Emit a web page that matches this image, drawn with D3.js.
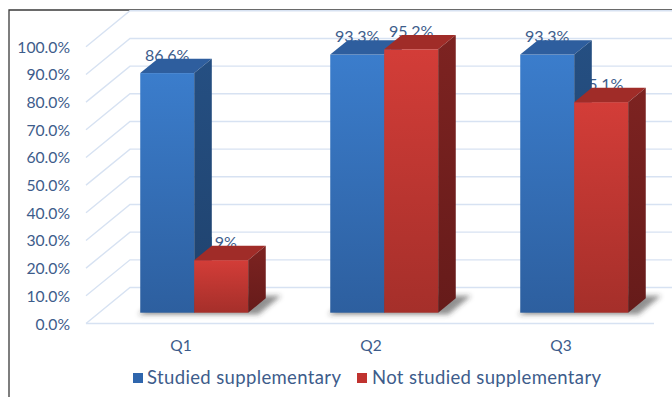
<!DOCTYPE html>
<html>
<head>
<meta charset="utf-8">
<script src="https://cdn.jsdelivr.net/npm/d3@7"></script>
<style>
  html, body { margin: 0; padding: 0; background: #fff; }
  svg { display: block; }
  text { font-family: Lato, "Open Sans", sans-serif; }
</style>
</head>
<body>
<svg id="chart" width="672" height="397"></svg>
<script>
// Survey results by question, two groups of students
const categories = ["Q1", "Q2", "Q3"];
const seriesNames = ["Studied supplementary", "Not studied supplementary"];
const studiedValues = [86.6, 93.3, 93.3];
const notStudiedValues = [19, 95.2, 76.1];
const studiedLabels = ["86.6%", "93.3%", "93.3%"];
const notStudiedLabels = ["19%", "95.2%", "75.1%"];
const yTicks = [0, 10, 20, 30, 40, 50, 60, 70, 80, 90, 100];

const W = 672, H = 397;
const textColor = "#3d5c8b";
const gridColor = "#d7e2f2";

// Oblique projection: depth 0 is the front edge of the floor, 1 the back wall
const depthDX = 44, depthDY = -36;
const barZ0 = 0.3, barZ1 = 0.7;

const x = d3.scaleBand().domain(categories).range([86, 656]).paddingInner(0).paddingOuter(0);
const groupW = x.bandwidth() * 0.568;
const inner = d3.scaleBand().domain(seriesNames).range([0, groupW]);
const y = d3.scaleLinear().domain([0, 100]).range([323.5, 46.8]);

const P = (px, v, z) => [px + depthDX * z, y(v) + depthDY * z];

const svg = d3.select("#chart");
const defs = svg.append("defs");

const palettes = {
  "Studied supplementary": { frontTop: "#3b7dcc", frontBot: "#2d5f9f", top: "#2e5e9e", sideTop: "#254f82", sideBot: "#1f426d", key: "#2f66ad" },
  "Not studied supplementary": { frontTop: "#d33d38", frontBot: "#a52f2a", top: "#a02c28", sideTop: "#7d2321", sideBot: "#661b1a", key: "#c0332f" }
};

seriesNames.forEach((s, i) => {
  const p = palettes[s];
  const gf = defs.append("linearGradient").attr("id", "front" + i).attr("x1", 0).attr("y1", 0).attr("x2", 0).attr("y2", 1);
  gf.append("stop").attr("offset", "0%").attr("stop-color", p.frontTop);
  gf.append("stop").attr("offset", "100%").attr("stop-color", p.frontBot);
  const gs = defs.append("linearGradient").attr("id", "side" + i).attr("x1", 0).attr("y1", 0).attr("x2", 0).attr("y2", 1);
  gs.append("stop").attr("offset", "0%").attr("stop-color", p.sideTop);
  gs.append("stop").attr("offset", "100%").attr("stop-color", p.sideBot);
});

const blur = defs.append("filter").attr("id", "soft").attr("x", "-30%").attr("y", "-100%").attr("width", "160%").attr("height", "300%");
blur.append("feGaussianBlur").attr("stdDeviation", 2.6);

// Chart frame
svg.append("path").attr("d", `M9,${H} V10 H${W}`).attr("fill", "none").attr("stroke", "#3a3a3a").attr("stroke-width", 1.3);

// Gridlines: side wall diagonals plus back wall horizontals
const grid = svg.append("g").attr("stroke", gridColor).attr("stroke-width", 1.4).attr("fill", "none");
yTicks.forEach(t => {
  const a = P(x.range()[0], t, 0), b = P(x.range()[0], t, 1), c = P(x.range()[1] + 60, t, 1);
  grid.append("path").attr("d", `M${a[0]},${a[1]} L${b[0]},${b[1]} L${c[0]},${c[1]}`);
});
// Floor front edge
grid.append("line")
  .attr("x1", x.range()[0]).attr("x2", x.range()[1] - 2)
  .attr("y1", y(0)).attr("y2", y(0));

// Value axis labels
svg.append("g").selectAll("text").data(yTicks).join("text")
  .attr("x", 70).attr("y", d => y(d) + 6)
  .attr("text-anchor", "end")
  .attr("font-size", 15.7).attr("fill", textColor)
  .text(d => d3.format(".1f")(d) + "%");

// Category labels at the front edge
svg.append("g").selectAll("text").data(categories).join("text")
  .attr("x", d => x(d) + x.bandwidth() / 2)
  .attr("y", 351)
  .attr("text-anchor", "middle")
  .attr("font-size", 15.5).attr("fill", textColor)
  .text(d => d);

// Flatten into bar records
const bars = [];
categories.forEach((c, ci) => {
  [studiedValues, notStudiedValues].forEach((vals, si) => {
    bars.push({
      cat: c, series: seriesNames[si], si,
      value: vals[ci],
      label: (si === 0 ? studiedLabels : notStudiedLabels)[ci],
      x0: x(c) + (x.bandwidth() - groupW) / 2 + inner(seriesNames[si]),
      w: inner.bandwidth()
    });
  });
});

// Soft floor shadows under each cluster
const shadowG = svg.append("g").attr("filter", "url(#soft)");
categories.forEach(c => {
  const l = x(c) + (x.bandwidth() - groupW) / 2 - 3;
  const r = l + groupW + 12;
  const pts = [P(l, 0, barZ0 - 0.02), P(r, 0, barZ0 - 0.02), P(r, 0, barZ1 + 0.1), P(l, 0, barZ1 + 0.1)];
  shadowG.append("polygon")
    .attr("points", pts.map(p => p.join(",")).join(" "))
    .attr("transform", "translate(2,1)")
    .attr("fill", "#333").attr("opacity", 0.55);
});

// Data labels sit behind the bars
svg.append("g").selectAll("text").data(bars).join("text")
  .attr("x", d => P(d.x0 + d.w / 2, d.value, barZ0)[0])
  .attr("y", d => P(0, d.value, barZ0)[1] - 12.5)
  .attr("text-anchor", "middle")
  .attr("font-size", 16).attr("fill", textColor)
  .text(d => d.label);

// 3D columns: front face, top face, right side face
const barG = svg.append("g");
bars.forEach(d => {
  const g = barG.append("g");
  const fl = P(d.x0, d.value, barZ0), fr0 = P(d.x0 + d.w, 0, barZ0);
  g.append("rect")
    .attr("x", fl[0]).attr("y", fl[1])
    .attr("width", d.w).attr("height", fr0[1] - fl[1])
    .attr("fill", `url(#front${d.si})`);
  const top = [P(d.x0, d.value, barZ0), P(d.x0 + d.w, d.value, barZ0), P(d.x0 + d.w, d.value, barZ1), P(d.x0, d.value, barZ1)];
  g.append("polygon").attr("points", top.map(p => p.join(",")).join(" ")).attr("fill", palettes[d.series].top);
  const side = [P(d.x0 + d.w, d.value, barZ0), P(d.x0 + d.w, d.value, barZ1), P(d.x0 + d.w, 0, barZ1), P(d.x0 + d.w, 0, barZ0)];
  g.append("polygon").attr("points", side.map(p => p.join(",")).join(" ")).attr("fill", `url(#side${d.si})`);
});

// Legend
const legend = svg.append("g");
const legendItems = [
  { name: seriesNames[0], keyX: 133, textX: 147, textW: 194 },
  { name: seriesNames[1], keyX: 357, textX: 372, textW: 229 }
];
legendItems.forEach(it => {
  legend.append("rect").attr("x", it.keyX).attr("y", 373).attr("width", 10).attr("height", 10)
    .attr("fill", palettes[it.name].key);
  legend.append("text").attr("x", it.textX).attr("y", 384)
    .attr("font-size", 18.5).attr("fill", textColor)
    .attr("textLength", it.textW).attr("lengthAdjust", "spacing")
    .text(it.name);
});
</script>
</body>
</html>
